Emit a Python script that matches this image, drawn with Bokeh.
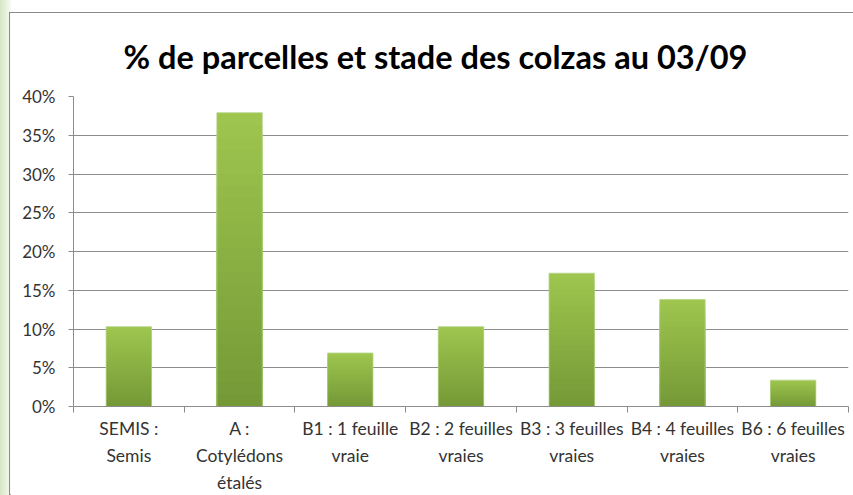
from bokeh.plotting import figure
from bokeh.models import Range1d, FixedTicker, NumeralTickFormatter, Title
from bokeh.layouts import column
from bokeh.embed import file_html
from bokeh.resources import INLINE

# ---- data ----
categories = ["SEMIS :\nSemis", "A :\nCotylédons\nétalés", "B1 : 1 feuille\nvraie",
              "B2 : 2 feuilles\nvraies", "B3 : 3 feuilles\nvraies",
              "B4 : 4 feuilles\nvraies", "B6 : 6 feuilles\nvraies"]
values = [0.103, 0.379, 0.069, 0.103, 0.172, 0.138, 0.034]
y_ticks = [0.0, 0.05, 0.10, 0.15, 0.20, 0.25, 0.30, 0.35, 0.40]
title_text = "% de parcelles et stade des colzas au 03/09"

FONT = "Lato"
n = len(categories)
centers = [i + 0.5 for i in range(n)]

p = figure(frame_width=773, frame_height=314,
           x_range=Range1d(0, n), y_range=Range1d(0, 0.40),
           output_backend="svg", toolbar_location=None,
           min_border_left=63, min_border_right=7,
           min_border_top=81, min_border_bottom=80,
           background_fill_color="white", border_fill_color="white",
           outline_line_color=None)
p.title = Title(text=title_text, align="left", offset=50,
                text_font=FONT, text_font_size="32.5px", text_font_style="bold",
                text_color="#000000", standoff=42, text_line_height=1.0)
p.margin = (12, 0, 0, 9)
p.styles = {"border": "1px solid #8a8a8a"}

# gradient bars: stacked overlapping bars from light (top) to dark (bottom)
top_c = (158, 197, 78)
bot_c = (116, 152, 54)
N = 24
for k in range(N, 0, -1):
    f = k / N
    r = int(bot_c[0] + (top_c[0] - bot_c[0]) * f)
    g = int(bot_c[1] + (top_c[1] - bot_c[1]) * f)
    b = int(bot_c[2] + (top_c[2] - bot_c[2]) * f)
    col = "#%02x%02x%02x" % (r, g, b)
    p.vbar(x=centers, top=[v * f for v in values], bottom=0, width=0.41,
           fill_color=col, line_color=None)
p.vbar(x=centers, top=values, bottom=0, width=0.41,
       fill_color=None, line_color="#b5d58a", line_width=1, line_alpha=0.8)

# grid
p.xgrid.grid_line_color = None
p.ygrid.grid_line_color = "#8c8c8c"
p.ygrid.grid_line_width = 1
p.ygrid.ticker = FixedTicker(ticks=y_ticks)

# y axis
p.yaxis.ticker = FixedTicker(ticks=y_ticks)
p.yaxis.formatter = NumeralTickFormatter(format="0%")
p.yaxis.axis_line_color = "#8c8c8c"
p.yaxis.major_tick_line_color = "#8c8c8c"
p.yaxis.major_tick_out = 5
p.yaxis.major_tick_in = 0
p.yaxis.minor_tick_line_color = None
p.yaxis.major_label_text_font = FONT
p.yaxis.major_label_text_font_size = "17px"
p.yaxis.major_label_text_color = "#333333"
p.yaxis.major_label_standoff = 13

# x axis
p.xaxis.ticker = FixedTicker(ticks=centers, minor_ticks=list(range(n + 1)))
p.xaxis.major_label_overrides = {c: lab for c, lab in zip(centers, categories)}
p.xaxis.axis_line_color = "#8c8c8c"
p.xaxis.major_tick_line_color = None
p.xaxis.minor_tick_line_color = "#8c8c8c"
p.xaxis.minor_tick_out = 6
p.xaxis.minor_tick_in = 0
p.xaxis.major_tick_out = 6
p.xaxis.major_tick_in = 0
p.xaxis.major_label_text_font = FONT
p.xaxis.major_label_text_font_size = "17.5px"
p.xaxis.major_label_text_color = "#333333"
p.xaxis.major_label_text_line_height = 1.3
p.xaxis.major_label_standoff = 5

root = column(p, width=853, height=495,
              styles={"background": "linear-gradient(90deg, #d6e6c2 0px, #eef4e6 8px, #ffffff 12px, #ffffff 100%)"})

open("out.html", "w").write(file_html(root, INLINE))
